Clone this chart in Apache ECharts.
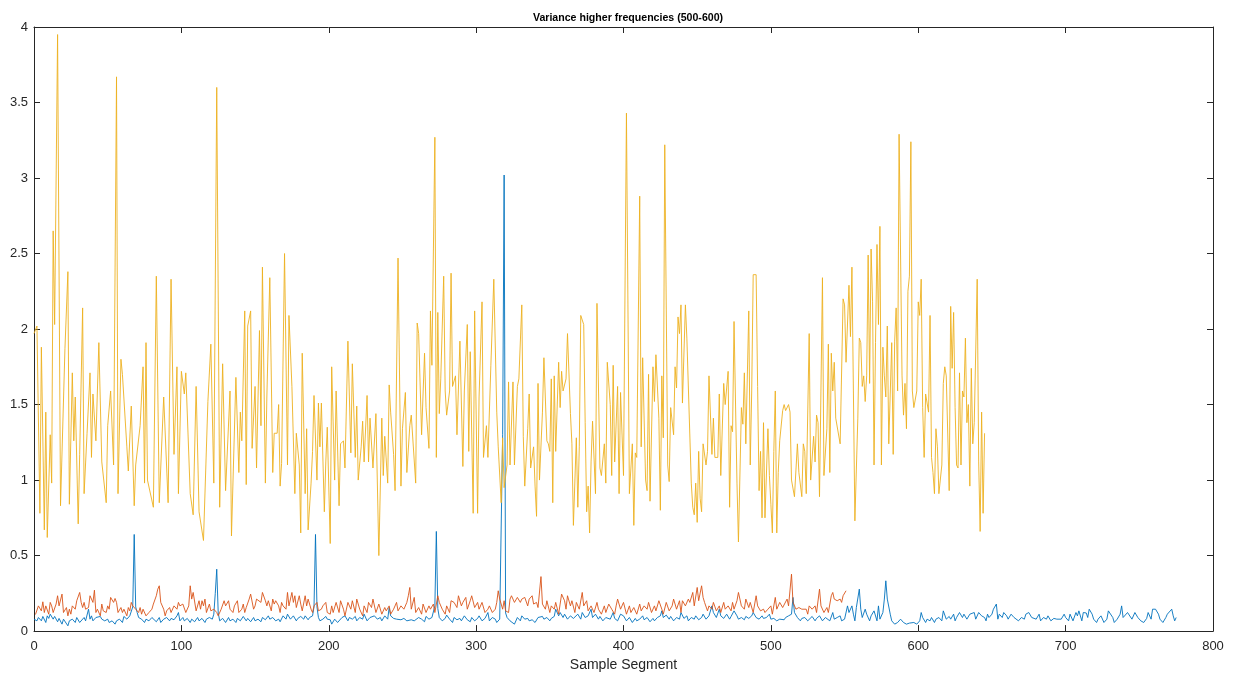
<!DOCTYPE html>
<html><head><meta charset="utf-8">
<script src="https://cdn.jsdelivr.net/npm/echarts@6/dist/echarts.min.js"></script>
<style>html,body{margin:0;padding:0;background:#fff}#c{width:1234px;height:677px}</style>
</head><body><div id="c"></div>
<script>
const titleText = 'Variance higher frequencies (500-600)';
const xName = 'Sample Segment';
const xTicks = {min: 0, max: 800, interval: 100};
const yTicks = {min: 0, max: 4, interval: 0.5};

// yellow series (3rd), [sample, variance]
const yellowPts = [
[0,1.97],[2,2.02],[4,0.78],[5,1.88],[7,0.67],[8,1.45],[9,0.62],[11,1.30],[12,0.98],[13,2.65],[14,2.03],[16,3.95],[18,0.83],[21,1.87],[23,2.38],[24,0.84],[26,1.71],[27,1.26],[28,1.55],[30,0.71],[31,1.17],[33,2.14],[34,0.91],[36,1.31],[38,1.71],[39,1.15],[40,1.57],[42,1.26],[44,1.91],[46,1.12],[49,0.85],[50,1.36],[52,1.59],[54,1.10],[56,3.67],[57,0.91],[59,1.80],[60,1.70],[63,1.22],[64,1.06],[66,1.49],[68,0.83],[69,1.10],[72,1.36],[74,1.75],[75,0.98],[76,1.91],[77,1.00],[81,0.82],[83,2.35],[85,0.85],[88,1.55],[91,0.85],[93,2.33],[95,1.17],[97,1.75],[98,0.91],[100,1.72],[102,1.57],[103,1.71],[106,0.91],[108,0.77],[110,1.62],[112,0.79],[115,0.60],[118,1.52],[120,1.90],[122,0.98],[124,3.60],[126,0.82],[128,1.77],
[130,0.93],[133,1.59],[134,0.63],[137,1.68],[139,1.05],[140,1.45],[141,1.26],[143,2.12],[144,0.97],[145,2.02],[147,2.12],[148,1.21],[150,1.62],[151,1.08],[153,1.99],[154,1.36],[155,2.41],[157,0.98],[158,1.55],[160,2.34],[162,1.05],[163,1.31],[165,1.31],[166,1.50],[167,0.96],[168,1.11],[169,1.10],[170,2.50],[172,1.10],[173,2.09],[175,1.62],[177,0.91],[178,1.31],[180,1.10],[181,0.65],[182,1.84],[184,0.91],[185,1.34],[186,0.67],[188,0.98],[189,1.19],[190,1.56],[192,1.00],[193,1.51],[194,1.22],[195,1.51],[197,0.79],[198,1.12],[199,1.35],[201,0.58],[202,1.75],[204,1.00],[205,1.59],[207,0.83],[208,1.24],[210,1.26],[211,1.08],[213,1.92],[215,1.18],[216,1.77],[218,1.15],[219,1.49],[220,1.00],[222,1.22],[223,1.39],[224,1.12],[226,1.56],[227,1.12],[228,1.41],[230,1.08],[232,1.44],[234,0.50],[236,1.41],[237,1.03],[238,1.29],[240,0.98],[241,1.63],[242,1.45],[244,1.17],[245,0.93],[247,2.47],[249,0.96],[250,1.34],[252,1.58],[253,1.05],[255,1.36],[256,1.43],[259,0.98],[260,2.04],[261,1.97],[263,1.30],[265,1.84],
[266,1.48],[268,1.21],[269,2.12],[270,1.76],[272,3.27],[273,1.15],[274,2.11],[275,1.44],[276,1.67],[278,2.35],[279,1.59],[280,1.43],[282,1.59],[283,2.37],[284,1.62],[286,1.69],[287,1.30],[289,1.92],[291,1.09],[292,1.59],[294,2.03],[295,1.19],[296,1.85],[298,0.78],[299,2.12],[301,0.78],[302,1.55],[304,2.18],[305,1.15],[307,1.36],[308,1.15],[310,1.76],[312,2.33],[314,1.45],[315,1.22],[317,0.85],[318,1.28],[319,0.95],[321,1.10],[322,1.65],[323,1.10],[325,1.65],[326,1.10],[328,1.62],[329,1.67],[331,2.16],[332,1.29],[333,0.96],[335,1.34],[336,1.57],[337,1.08],[339,1.22],[340,0.96],[341,0.76],[342,1.64],[343,1.00],[345,1.45],[346,1.81],[348,1.26],[349,1.24],[350,1.19],[351,1.67],[352,0.85],[353,1.69],[354,1.19],[356,1.78],[357,1.48],[358,1.72],[359,1.59],[361,1.67],[362,1.97],[364,1.44],[365,1.24],[366,0.70],[368,1.28],[369,0.82],[370,1.22],[371,2.09],[373,2.03],[374,1.38],[375,0.79],[376,0.96],[377,0.65],[378,1.12],[379,1.39],[381,0.91],[382,2.17],[384,1.08],[385,1.03],[387,1.24],[388,0.98],[389,1.78],[391,1.50],[392,1.03],[393,1.76],[394,1.12],[396,1.62],[397,0.91],
[398,1.58],[400,1.03],[402,3.43],[404,0.91],[406,1.24],[407,0.70],[408,1.18],[409,1.15],[411,2.88],[412,1.22],[413,1.81],[415,1.00],[416,0.93],[417,1.70],[418,0.86],[420,1.75],[421,1.52],[422,1.83],[424,1.41],[425,0.80],[426,1.69],[427,1.28],[428,3.22],[430,1.10],[431,0.99],[432,1.48],[434,1.30],[435,1.75],[436,1.61],[437,2.08],[438,1.97],[439,2.16],[440,1.51],[442,2.16],[443,1.94],[444,1.95],[446,0.98],[447,0.82],[448,0.77],[449,0.98],[450,0.72],[451,1.19],[452,0.88],[453,0.79],[454,1.24],[456,1.10],[457,1.19],[458,1.69],[460,1.17],[461,1.41],[462,1.15],[464,1.15],[465,1.57],[466,1.03],[468,1.64],[469,1.50],[471,1.72],[472,0.82],[473,1.36],[474,1.32],[475,2.05],[477,0.98],[478,0.59],[480,1.48],[481,1.37],[482,1.71],[483,1.24],[485,2.12],[486,1.10],[487,1.59],[488,2.36],[490,2.36],[491,1.62],[492,0.93],[493,1.19],[494,0.75],[495,1.38],[496,0.75],[498,1.34],[499,1.03],[500,0.84],[501,0.65],[502,1.19],[503,1.59],[504,0.65],[505,1.05],[506,1.26],[508,1.46],[509,1.50],[510,1.46],[512,1.50],[513,1.45],[514,1.00],[516,0.89],[518,1.24],[519,1.05],[521,0.89],[522,1.24],[523,1.19],[524,0.91],[526,1.97],[527,1.00],
[529,1.29],[530,1.12],[531,1.43],[532,1.38],[533,0.89],[535,2.34],[536,1.03],[538,1.34],[539,1.90],[540,1.05],[541,1.84],[542,1.59],[543,1.78],[544,1.41],[545,1.42],[547,1.24],[549,2.20],[550,2.16],[551,1.78],[552,1.78],[553,2.29],[554,1.95],[555,2.41],[556,1.59],[557,0.73],[559,1.41],[560,1.94],[561,1.91],[562,1.62],[563,1.69],[564,1.52],[565,1.69],[566,2.49],[567,1.64],[568,2.53],[569,2.18],[570,1.10],[571,1.91],[572,2.56],[573,2.03],[574,2.68],[575,1.10],[576,1.88],[577,1.69],[578,1.55],[579,2.02],[580,1.24],[582,1.91],[583,1.17],[584,1.92],[585,2.14],[586,1.59],[587,3.29],[589,1.69],[590,1.43],[591,1.64],[592,1.34],[593,2.25],[594,2.35],[595,3.24],[596,1.59],[597,1.48],[599,1.59],[600,2.18],[601,2.09],[602,2.33],[603,1.48],[604,1.15],[605,1.57],[607,1.45],[608,2.09],[609,1.15],[610,1.05],[611,0.91],[612,1.34],[613,1.22],[614,0.91],[616,1.10],[617,1.64],[618,1.75],[619,1.69],[621,0.93],[622,2.15],[623,1.74],[624,2.11],[625,1.48],[626,1.10],[627,1.08],[628,1.71],[629,1.10],[630,1.59],[631,1.55],[632,1.94],[633,1.38],[634,1.50],[635,0.96],[636,1.74],[637,1.24],[638,1.38],[640,2.33],[641,1.12],[642,0.66],[643,1.45],[644,0.78],[645,1.31]
];

// orange series (2nd)
const orangePts = [
[1,0.11],[2,0.123],[3,0.167],[5,0.134],[6,0.194],[7,0.123],[8,0.167],[10,0.112],[11,0.190],[12,0.167],[13,0.123],[15,0.179],[16,0.234],[17,0.167],[19,0.245],[20,0.123],[22,0.156],[23,0.101],[24,0.145],[25,0.112],[26,0.167],[28,0.145],[29,0.201],[31,0.256],[32,0.190],[33,0.156],[34,0.190],[35,0.145],[37,0.156],[38,0.234],[40,0.190],[41,0.271],[42,0.123],[43,0.145],[45,0.101],[46,0.179],[47,0.134],[48,0.145],[49,0.123],[50,0.167],[51,0.145],[52,0.223],[54,0.190],[55,0.216],[56,0.190],[57,0.123],[59,0.156],[60,0.123],[61,0.145],[63,0.101],[64,0.156],[65,0.134],[66,0.190],[67,0.167],[69,0.145],[71,0.123],[72,0.156],[73,0.112],[74,0.145],[76,0.101],[78,0.123],[80,0.145],[81,0.179],[83,0.234],[84,0.278],[85,0.300],[86,0.190],[88,0.145],[89,0.101],[90,0.134],[92,0.156],[93,0.123],[95,0.167],[97,0.145],[98,0.190],[99,0.167],[101,0.179],[102,0.167],[103,0.123],[105,0.167],[106,0.300],[107,0.212],[108,0.256],[110,0.134],[112,0.201],[113,0.145],[114,0.201],[115,0.167],[116,0.212],[117,0.123],[119,0.179],[120,0.134],[122,0.145],[124,0.123],[125,0.101],[127,0.145],[129,0.201],[130,0.167],[132,0.201],[133,0.145],[135,0.123],[136,0.167],[138,0.201],[139,0.123],[141,0.145],[142,0.179],[143,0.123],[144,0.156],[146,0.212],[147,0.245],[149,0.145],[150,0.167],[151,0.212],[152,0.223],[154,0.190],[155,0.256],[157,0.201],[158,0.167],[159,0.201],[161,0.134],[162,0.212],[163,0.179],[164,0.201],[166,0.167],[167,0.123],[168,0.190],[169,0.167],[171,0.145],[172,0.256],[173,0.167],[175,0.256],[176,0.190],[177,0.234],[178,0.156],[180,0.234],[181,0.179],[182,0.134],[184,0.234],[185,0.167],[186,0.212],[188,0.145],[189,0.123],[190,0.167],[192,0.190],[193,0.134],[195,0.145],[196,0.167],[198,0.190],[199,0.123],[201,0.112],
[202,0.167],[203,0.123],[205,0.190],[207,0.123],[208,0.201],[210,0.145],[211,0.101],[213,0.190],[215,0.145],[216,0.201],[218,0.123],[219,0.212],[221,0.145],[223,0.101],[224,0.167],[226,0.123],[227,0.190],[229,0.156],[230,0.212],[232,0.123],[234,0.179],[236,0.112],[238,0.156],[239,0.134],[241,0.167],[242,0.112],[244,0.145],[246,0.190],[247,0.134],[249,0.167],[251,0.145],[253,0.190],[254,0.234],[255,0.289],[256,0.145],[258,0.223],[259,0.123],[261,0.156],[263,0.112],[264,0.179],[266,0.123],[268,0.167],[269,0.145],[271,0.179],[272,0.123],[274,0.234],[275,0.190],[277,0.145],[279,0.112],[280,0.167],[282,0.123],[283,0.201],[285,0.190],[287,0.156],[288,0.234],[290,0.167],[291,0.190],[293,0.223],[294,0.145],[296,0.201],[297,0.234],[299,0.156],[301,0.190],[302,0.145],[304,0.190],[306,0.123],[308,0.145],[309,0.167],[311,0.123],[313,0.145],[314,0.190],[315,0.267],[316,0.212],[318,0.145],[319,0.201],[320,0.134],[322,0.123],[323,0.212],[324,0.234],[326,0.190],[328,0.223],[330,0.190],[331,0.212],[333,0.223],[335,0.167],[336,0.212],[338,0.234],[339,0.179],[341,0.190],[342,0.156],[344,0.361],[345,0.179],[347,0.145],[348,0.201],[350,0.123],[351,0.167],[353,0.145],[354,0.190],[356,0.112],[357,0.179],[358,0.245],[360,0.201],[361,0.145],[362,0.234],[364,0.167],[365,0.201],[367,0.123],[368,0.190],[370,0.145],[372,0.256],[373,0.167],[375,0.201],[376,0.134],[378,0.167],[380,0.123],[382,0.190],[383,0.145],[385,0.112],[387,0.167],[388,0.123],[390,0.179],[392,0.145],[394,0.112],[395,0.167],[396,0.212],[398,0.145],[400,0.190],
[402,0.112],[404,0.167],[405,0.123],[407,0.156],[409,0.112],[411,0.179],[412,0.134],[414,0.167],[416,0.145],[417,0.190],[419,0.123],[421,0.167],[422,0.134],[424,0.201],[426,0.145],[427,0.112],[429,0.190],[431,0.134],[433,0.167],[434,0.212],[436,0.145],[438,0.201],[439,0.123],[440,0.201],[442,0.167],[444,0.212],[445,0.190],[447,0.256],[448,0.167],[450,0.289],[451,0.201],[453,0.300],[454,0.223],[455,0.190],[457,0.134],[458,0.167],[460,0.145],[461,0.190],[463,0.134],[465,0.167],[466,0.123],[468,0.190],[469,0.145],[471,0.167],[473,0.134],[474,0.190],[475,0.145],[477,0.201],[478,0.256],[480,0.167],[482,0.145],[483,0.212],[485,0.156],[486,0.190],[488,0.123],[490,0.234],[491,0.167],[493,0.134],[495,0.145],[496,0.123],[498,0.145],[500,0.167],[501,0.112],[503,0.223],[504,0.145],[506,0.190],[508,0.156],[509,0.145],[511,0.212],[512,0.167],[514,0.377],[515,0.190],[517,0.145],[519,0.156],[521,0.145],[522,0.134],[524,0.145],[525,0.112],[526,0.167],[528,0.145],[530,0.167],[531,0.123],[533,0.278],[534,0.167],[536,0.123],[538,0.156],[539,0.123],[541,0.234],[542,0.256],[543,0.212],[545,0.201],[547,0.212],[548,0.190],[549,0.234],[551,0.267]
];

// blue series (1st)
const bluePts = [
[0,0.079],[2,0.068],[3,0.090],[5,0.068],[6,0.097],[8,0.057],[9,0.101],[10,0.084],[11,0.112],[13,0.079],[14,0.097],[16,0.062],[17,0.084],[19,0.046],[20,0.079],[21,0.068],[23,0.035],[24,0.068],[26,0.079],[28,0.057],[29,0.090],[31,0.057],[32,0.068],[34,0.090],[35,0.068],[37,0.145],[38,0.079],[39,0.101],[40,0.068],[42,0.090],[43,0.079],[45,0.097],[46,0.079],[48,0.068],[50,0.079],[51,0.057],[53,0.068],[55,0.046],[56,0.068],[58,0.079],[60,0.057],[61,0.097],[63,0.079],[65,0.101],[66,0.112],[67,0.16],[68,0.64],[69,0.16],[70,0.123],[71,0.090],[73,0.079],[75,0.057],[76,0.079],[78,0.068],[80,0.090],[81,0.079],[83,0.062],[85,0.090],[86,0.057],[88,0.079],[90,0.090],[92,0.068],[93,0.084],[95,0.075],[97,0.101],[98,0.123],[99,0.068],[101,0.090],[102,0.068],[104,0.084],[106,0.057],[107,0.079],[109,0.062],[111,0.090],[112,0.068],[114,0.084],[116,0.057],[117,0.079],[119,0.090],[121,0.079],[122,0.112],[123,0.25],[124,0.41],[125,0.12],[126,0.068],[128,0.084],[130,0.057],[132,0.090],[133,0.068],[135,0.079],[137,0.057],[138,0.084],[140,0.068],[142,0.097],[144,0.068],[145,0.084],[147,0.062],[149,0.090],[150,0.068],[152,0.079],[154,0.062],[155,0.090],[157,0.075],[159,0.101],[160,0.079],[162,0.090],[164,0.068],[166,0.079],[167,0.062],[169,0.101],[171,0.079],[172,0.112],[174,0.079],[176,0.101],[178,0.068],[179,0.084],[181,0.097],[183,0.079],[184,0.101],[186,0.075],[187,0.090],[189,0.101],[190,0.16],[191,0.64],[192,0.16],[193,0.090],[194,0.068],[196,0.079],[198,0.097],[199,0.079],
[201,0.075],[202,0.046],[204,0.079],[206,0.057],[207,0.068],[209,0.090],[211,0.101],[213,0.068],[214,0.090],[216,0.079],[218,0.097],[219,0.068],[221,0.090],[223,0.079],[224,0.112],[226,0.068],[228,0.090],[229,0.079],[231,0.101],[233,0.079],[235,0.090],[236,0.068],[238,0.101],[240,0.079],[241,0.156],[242,0.101],[244,0.084],[246,0.079],[247,0.090],[249,0.075],[251,0.084],[253,0.068],[254,0.079],[256,0.075],[258,0.068],[259,0.057],[261,0.090],[263,0.079],[265,0.062],[266,0.097],[268,0.079],[270,0.090],[271,0.097],[272,0.167],[273,0.66],[274,0.15],[275,0.090],[277,0.068],[279,0.084],[280,0.106],[282,0.079],[284,0.057],[285,0.090],[287,0.075],[289,0.084],[290,0.068],[292,0.101],[294,0.075],[296,0.062],[297,0.090],[299,0.068],[301,0.084],[302,0.101],[304,0.068],[306,0.084],[308,0.123],[309,0.068],[311,0.090],[313,0.079],[314,0.057],[316,0.079],[317,0.08],[318,1.3],[319,3.02],[320,0.12],[321,0.090],[323,0.068],[324,0.079],[326,0.046],[328,0.090],[330,0.068],[331,0.101],[333,0.079],[335,0.084],[336,0.068],[338,0.075],[340,0.057],[342,0.090],[343,0.079],[345,0.097],[346,0.079],[348,0.090],[350,0.068],[351,0.084],[353,0.097],[354,0.145],[356,0.101],[357,0.123],[359,0.090],[360,0.112],[362,0.079],[364,0.101],[366,0.084],[367,0.090],[369,0.112],[371,0.079],[372,0.123],[374,0.090],[376,0.101],[378,0.145],[379,0.090],[381,0.112],[383,0.079],[384,0.097],[386,0.068],[388,0.090],[389,0.101],[391,0.079],[393,0.123],[394,0.084],[396,0.068],[398,0.112],[400,0.101],
[401,0.097],[402,0.068],[404,0.090],[406,0.057],[408,0.084],[409,0.068],[411,0.079],[413,0.101],[414,0.075],[416,0.090],[418,0.062],[420,0.084],[421,0.068],[423,0.090],[425,0.101],[426,0.134],[427,0.090],[429,0.106],[431,0.079],[432,0.097],[434,0.068],[436,0.090],[438,0.079],[439,0.123],[441,0.084],[443,0.101],[444,0.068],[446,0.090],[448,0.079],[449,0.101],[451,0.075],[453,0.090],[454,0.112],[456,0.079],[458,0.101],[460,0.167],[461,0.123],[463,0.090],[465,0.145],[466,0.101],[468,0.084],[470,0.112],[472,0.079],[473,0.097],[475,0.134],[477,0.101],[478,0.079],[480,0.090],[482,0.075],[483,0.097],[485,0.084],[487,0.101],[488,0.123],[490,0.090],[492,0.079],[494,0.101],[495,0.084],[497,0.090],[499,0.112],[500,0.079],[502,0.084],[504,0.068],[506,0.079],[507,0.090],[509,0.075],[510,0.090],[512,0.101],[514,0.112],[515,0.223],[516,0.123],[518,0.090],[520,0.068],[521,0.084],[523,0.090],[525,0.068],[526,0.079],[528,0.097],[530,0.068],[531,0.084],[533,0.101],[535,0.068],[537,0.090],[538,0.079],[540,0.068],[542,0.123],[543,0.079],[545,0.090],[547,0.101],[548,0.068],[550,0.079],[552,0.167],[553,0.123],[555,0.167],[556,0.112],[557,0.068],[558,0.156],[560,0.278],[561,0.145],[562,0.090],[564,0.145],[565,0.112],[567,0.068],[568,0.101],[570,0.134],[572,0.068],[573,0.167],[574,0.079],[576,0.123],[577,0.212],[578,0.333],[579,0.212],[581,0.112],[582,0.068],[584,0.046],[586,0.057],[587,0.068],[588,0.079],[590,0.057],[592,0.046],[594,0.053],[595,0.046],[597,0.057],[599,0.046],
[601,0.068],[602,0.123],[603,0.090],[605,0.057],[606,0.079],[608,0.068],[609,0.090],[611,0.057],[612,0.079],[614,0.090],[616,0.068],[617,0.134],[619,0.079],[621,0.097],[622,0.079],[624,0.112],[625,0.068],[626,0.090],[628,0.123],[630,0.090],[631,0.112],[633,0.079],[635,0.112],[636,0.101],[638,0.123],[639,0.079],[641,0.123],[643,0.101],[645,0.090],[646,0.068],[647,0.112],[648,0.090],[650,0.112],[651,0.145],[653,0.179],[654,0.079],[655,0.112],[657,0.090],[658,0.123],[660,0.101],[661,0.079],[663,0.112],[665,0.090],[666,0.079],[668,0.068],[670,0.090],[672,0.079],[673,0.112],[675,0.123],[677,0.090],[678,0.101],[680,0.079],[682,0.112],[683,0.068],[685,0.090],[687,0.079],[688,0.101],[690,0.068],[692,0.084],[694,0.079],[695,0.090],[697,0.079],[699,0.112],[700,0.090],[702,0.068],[703,0.112],[705,0.068],[707,0.123],[708,0.101],[709,0.134],[711,0.068],[712,0.123],[714,0.12],[715,0.090],[716,0.145],[718,0.112],[719,0.079],[721,0.057],[722,0.079],[724,0.101],[726,0.057],[728,0.079],[729,0.134],[730,0.145],[732,0.090],[733,0.057],[735,0.079],[737,0.112],[738,0.167],[739,0.090],[740,0.079],[742,0.123],[743,0.134],[745,0.079],[747,0.123],[748,0.134],[749,0.090],[751,0.068],[753,0.057],[755,0.084],[756,0.123],[758,0.079],[759,0.145],[760,0.156],[761,0.145],[763,0.112],[764,0.079],[766,0.057],[768,0.090],[769,0.112],[770,0.123],[772,0.145],[773,0.101],[774,0.068],[775,0.090]
];

const seriesNames = ['band 1', 'band 2', 'band 3'];
const colors = ['#0072BD', '#D95319', '#EDB120'];

const axisColor = '#262626';
const font = 'Liberation Sans, Arial, Helvetica, sans-serif';
const chart = echarts.init(document.getElementById('c'), null, {renderer: 'canvas'});
const baseX = {
  type: 'value', min: xTicks.min, max: xTicks.max, interval: xTicks.interval,
  axisLine: {show: true, onZero: false, lineStyle: {color: axisColor, width: 1}},
  axisTick: {show: true, inside: true, length: 6, lineStyle: {color: axisColor}},
  splitLine: {show: false}
};
const baseY = {
  type: 'value', min: yTicks.min, max: yTicks.max, interval: yTicks.interval,
  axisLine: {show: true, onZero: false, lineStyle: {color: axisColor, width: 1}},
  axisTick: {show: true, inside: true, length: 6, lineStyle: {color: axisColor}},
  splitLine: {show: false}
};
chart.setOption({
  animation: false,
  backgroundColor: '#fff',
  title: {
    text: titleText, left: 623, top: 8, textAlign: 'center',
    textStyle: {fontFamily: font, fontSize: 10.6, fontWeight: 'bold', color: '#000'}
  },
  grid: {left: 34, right: 21, top: 27, bottom: 45},
  xAxis: [
    Object.assign({}, baseX, {
      position: 'bottom', name: xName, nameLocation: 'middle', nameGap: 25,
      nameTextStyle: {fontFamily: font, fontSize: 14, color: axisColor},
      axisLabel: {fontFamily: font, fontSize: 13, color: axisColor, margin: 9}
    }),
    Object.assign({}, baseX, {position: 'top', axisLabel: {show: false}})
  ],
  yAxis: [
    Object.assign({}, baseY, {
      position: 'left',
      axisLabel: {fontFamily: font, fontSize: 13, color: axisColor, margin: 6}
    }),
    Object.assign({}, baseY, {position: 'right', axisLabel: {show: false}})
  ],
  series: [bluePts, orangePts, yellowPts].map((d, i) => ({
    name: seriesNames[i], type: 'line', data: d, xAxisIndex: 0, yAxisIndex: 0,
    showSymbol: false, symbol: 'none', z: 2 + i,
    lineStyle: {color: colors[i], width: 0.9}, itemStyle: {color: colors[i]}
  }))
});
</script></body></html>
